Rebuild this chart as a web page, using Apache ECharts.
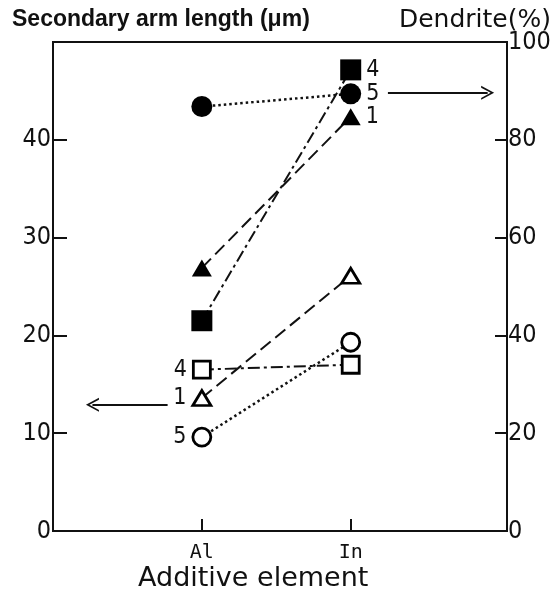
<!DOCTYPE html>
<html>
<head>
<meta charset="utf-8">
<script src="https://cdn.jsdelivr.net/npm/echarts@6/dist/echarts.min.js"></script>
<style>
  html, body { margin: 0; padding: 0; background: #fff; }
  #chart { width: 558px; height: 589px; }
</style>
</head>
<body>
<div id="chart"></div>
<script>
// categories on the x axis
const elements = ['Al', 'In']
const elementPos = [1, 2]

// dendrite (%) - filled symbols, right axis
const dendrite4 = [43.0, 94.3]
const dendrite1 = [53.8, 84.7]
const dendrite5 = [86.8, 89.4]

// secondary arm length (um) - open symbols, left axis
const arm4 = [16.5, 17.0]
const arm1 = [13.6, 26.1]
const arm5 = [9.6, 19.3]

// tick labels
const leftLabels = [0, 10, 20, 30, 40]
const rightLabels = [0, 20, 40, 60, 80, 100]

// arrows pointing to the axis each group belongs to
const leftArrow = [[0.77, 12.9], [0.265, 12.9]]
const rightArrow = [[2.25, 89.6], [2.92, 89.6]]

const numFont = "'DejaVu Sans Condensed', 'Liberation Sans Narrow', 'DejaVu Sans', sans-serif"

const lineTypes = {
    dashdot: [12, 4, 3, 4],
    dashed: [13, 6],
    dotted: [2.5, 3],
}

// chevron arrow head, tip up
const chevron = 'path://M0,0 L9,11 L6.5,11 L0,3 L-6.5,11 L-9,11 Z'

function makeSeries(vals, yIdx, symbol, size, filled, lineType, tag, tagIdx, tagPos, arrow) {
    const s = {
        type: 'line',
        yAxisIndex: yIdx,
        symbol: symbol,
        symbolSize: size,
        showAllSymbol: true,
        lineStyle: {
            color: '#111',
            width: lineType === 'dotted' ? 2.5 : 2,
            type: lineTypes[lineType],
        },
        itemStyle: filled
            ? { color: '#000', borderWidth: 0 }
            : { color: '#fff', borderColor: '#000', borderWidth: 2.8 },
        data: vals.map((v, i) => ({
            value: [elementPos[i], v],
            label: i === tagIdx
                ? { show: true, formatter: tag, position: tagPos, distance: 5,
                    fontFamily: numFont, fontSize: 23, color: '#111' }
                : { show: false },
        })),
        z: filled ? 3 : 2,
    }
    if (arrow) {
        s.markLine = {
            silent: true,
            symbol: ['none', chevron],
            symbolSize: [14, 13],
            label: { show: false },
            lineStyle: { color: '#111', width: 2, type: 'solid' },
            data: [[{ coord: arrow[0] }, { coord: arrow[1] }]],
        }
    }
    return s
}

const chart = echarts.init(document.getElementById('chart'))

const option = {
    animation: false,
    title: [
        {
            text: 'Secondary arm length (μm)',
            left: 7, top: 3,
            textStyle: { fontFamily: "'Liberation Sans', Arial, sans-serif", fontWeight: 'bold', fontSize: 23, color: '#111' },
        },
        {
            text: 'Dendrite(%)',
            right: 2, top: 3,
            textStyle: { fontFamily: "'DejaVu Sans', sans-serif", fontWeight: 'normal', fontSize: 25, color: '#111' },
        },
        {
            text: 'Additive element',
            left: 133, top: 560,
            textStyle: { fontFamily: "'DejaVu Sans', sans-serif", fontWeight: 'normal', fontSize: 27, color: '#111' },
        },
    ],
    grid: {
        left: 53, right: 51, top: 42, bottom: 58,
        show: true, borderColor: '#111', borderWidth: 2,
    },
    xAxis: {
        type: 'value',
        min: 0, max: 3.05,
        axisLine: { show: false },
        splitLine: { show: false },
        axisTick: { show: true, inside: true, length: 12, lineStyle: { color: '#111', width: 2 }, customValues: elementPos },
        axisLabel: {
            customValues: elementPos,
            formatter: v => elements[elementPos.indexOf(v)] || '',
            fontFamily: "'DejaVu Sans Mono', monospace", fontSize: 20, color: '#111', margin: 12,
        },
    },
    yAxis: [
        {
            type: 'value', position: 'left',
            min: 0, max: 50, interval: 10,
            axisLine: { show: false },
            splitLine: { show: false },
            axisTick: { show: true, inside: true, length: 14, lineStyle: { color: '#111', width: 2 }, customValues: [10, 20, 30, 40] },
            axisLabel: { customValues: leftLabels, fontFamily: numFont, fontSize: 25, color: '#111', margin: 2 },
        },
        {
            type: 'value', position: 'right',
            min: 0, max: 100, interval: 20,
            axisLine: { show: false },
            splitLine: { show: false },
            axisTick: { show: true, inside: true, length: 12, lineStyle: { color: '#111', width: 2 }, customValues: [20, 40, 60, 80] },
            axisLabel: { customValues: rightLabels, fontFamily: numFont, fontSize: 25, color: '#111', margin: 1 },
        },
    ],
    series: [
        makeSeries(dendrite4, 1, 'rect', 21, true, 'dashdot', '4', 1, 'right', null),
        makeSeries(dendrite1, 1, 'triangle', [20, 17], true, 'dashed', '1', 1, 'right', null),
        makeSeries(dendrite5, 1, 'circle', 21, true, 'dotted', '5', 1, 'right', rightArrow),
        makeSeries(arm4, 0, 'rect', 17, false, 'dashdot', '4', 0, 'left', null),
        makeSeries(arm1, 0, 'triangle', [18, 15], false, 'dashed', '1', 0, 'left', leftArrow),
        makeSeries(arm5, 0, 'circle', 18, false, 'dotted', '5', 0, 'left', null),
    ],
}

chart.setOption(option)
</script>
</body>
</html>
